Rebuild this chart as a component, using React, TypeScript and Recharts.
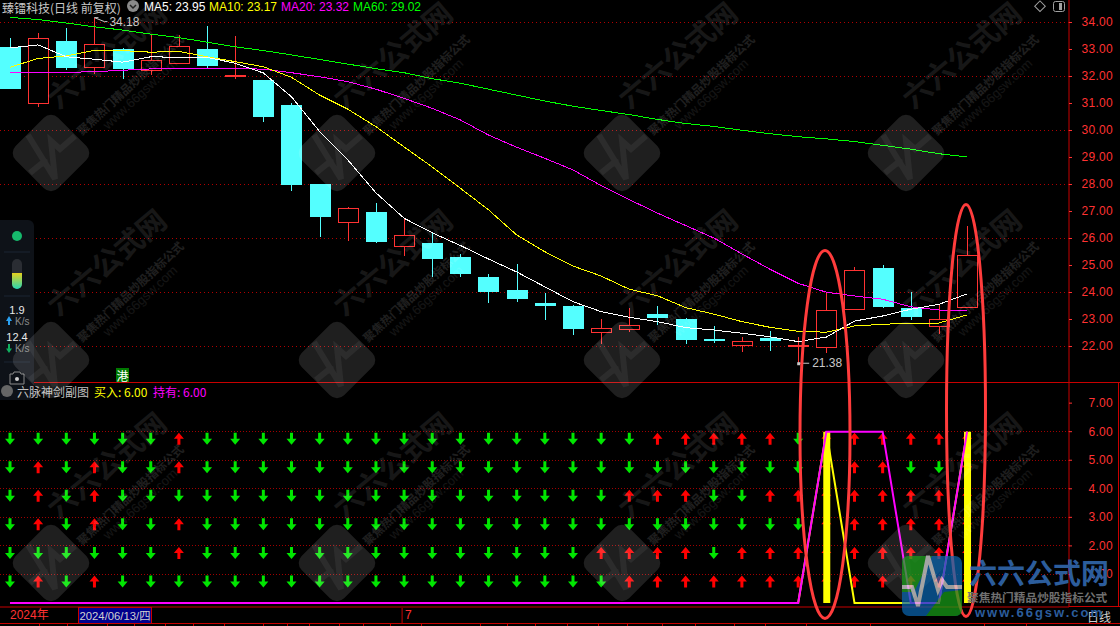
// Daily candles with MA lines and a six-row signal panel on a black terminal screen
import { Bar, CartesianGrid, ComposedChart, Line, ReferenceDot, Scatter, XAxis, YAxis } from 'recharts';

const opens = [33.09, 30.99, 33.31, 32.33, 33.02, 32.21, 32.47, 33.02, 32.03, 31.87, 30.94, 28.02, 26.59, 26.98, 25.7, 25.83, 25.31, 24.57, 24.09, 23.61, 23.5, 22.51, 22.62, 23.2, 23.02, 22.24, 22.03, 22.32, 22.0, 21.97, 23.38, 24.91, 23.43, 22.73, 23.44];
const closes = [31.54, 33.41, 32.31, 33.19, 32.28, 32.6, 33.12, 32.4, 32.03, 30.5, 27.98, 26.81, 27.12, 25.87, 26.12, 25.24, 24.69, 24.02, 23.76, 23.5, 22.65, 22.67, 22.79, 23.05, 22.24, 22.22, 22.2, 22.2, 22.0, 23.34, 24.82, 23.46, 23.09, 23.0, 25.38];
const highs = [33.43, 33.61, 33.8, 34.18, 33.06, 33.54, 33.54, 33.87, 33.5, 31.87, 31.02, 28.02, 27.18, 27.31, 26.75, 26.21, 25.43, 24.69, 25.06, 23.98, 23.54, 23.02, 23.43, 23.5, 23.06, 22.76, 22.35, 22.57, 22.35, 23.98, 24.94, 25.02, 24.02, 23.54, 26.46];
const lows = [31.54, 30.87, 32.24, 32.09, 31.91, 32.06, 32.47, 32.31, 31.92, 30.33, 27.76, 26.07, 25.92, 25.84, 25.35, 24.57, 24.57, 23.61, 23.65, 22.98, 22.43, 22.09, 22.54, 22.8, 22.09, 22.14, 21.8, 21.83, 21.38, 21.76, 23.38, 23.44, 22.98, 22.46, 23.44];

const ma5 = [33.06, 33.17, 32.73, 32.64, 32.53, 32.73, 32.71, 32.71, 32.49, 32.13, 31.25, 29.96, 28.91, 27.69, 26.75, 26.21, 25.74, 25.24, 24.76, 24.21, 23.66, 23.29, 23.08, 22.92, 22.7, 22.61, 22.49, 22.36, 22.18, 22.35, 22.94, 23.13, 23.38, 23.56, 23.95];
const ma10 = [32.34, 32.67, 32.76, 32.97, 32.96, 32.9, 32.93, 32.73, 32.55, 32.36, 31.97, 31.31, 30.79, 30.14, 29.39, 28.65, 27.86, 27.06, 26.13, 25.51, 24.98, 24.61, 24.12, 23.88, 23.44, 23.2, 22.92, 22.71, 22.56, 22.53, 22.76, 22.82, 22.87, 22.87, 23.17];
const ma20 = [32.13, 32.13, 32.15, 32.18, 32.23, 32.28, 32.3, 32.3, 32.3, 32.27, 32.14, 31.99, 31.81, 31.53, 31.19, 30.82, 30.39, 29.83, 29.38, 28.97, 28.54, 27.96, 27.44, 26.94, 26.48, 26.02, 25.43, 24.86, 24.34, 24.01, 23.87, 23.75, 23.47, 23.35, 23.32];
const ma60 = [34.19, 34.11, 33.98, 33.84, 33.72, 33.57, 33.44, 33.27, 33.1, 32.96, 32.8, 32.63, 32.46, 32.29, 32.14, 31.92, 31.75, 31.53, 31.31, 31.09, 30.9, 30.74, 30.59, 30.41, 30.26, 30.15, 30.01, 29.88, 29.77, 29.69, 29.59, 29.45, 29.31, 29.14, 29.02];

// lower panel: 1 = red up arrow, 0 = green down arrow
const row6 = [0, 0, 0, 0, 0, 0, 1, 0, 0, 0, 0, 0, 0, 0, 0, 0, 0, 0, 0, 0, 0, 0, 0, 1, 1, 1, 1, 1, 0, 1, 1, 1, 1, 1, 1];
const row5 = [0, 1, 0, 1, 0, 0, 1, 0, 0, 0, 0, 0, 0, 0, 0, 0, 0, 0, 0, 0, 0, 0, 0, 0, 0, 0, 0, 0, 0, 1, 1, 1, 0, 0, 1];
const row4 = [0, 1, 0, 1, 0, 0, 0, 0, 0, 0, 0, 0, 0, 0, 0, 0, 0, 0, 0, 0, 0, 0, 1, 1, 1, 0, 0, 1, 1, 1, 1, 1, 1, 1, 1];
const row3 = [0, 1, 0, 1, 0, 0, 1, 0, 0, 0, 0, 0, 0, 0, 0, 0, 0, 0, 0, 0, 0, 0, 0, 0, 0, 0, 0, 0, 0, 1, 1, 1, 1, 1, 1];
const row2 = [0, 0, 0, 0, 0, 0, 1, 0, 0, 0, 0, 0, 0, 0, 0, 0, 0, 0, 0, 0, 0, 1, 1, 1, 1, 0, 1, 1, 1, 1, 1, 1, 1, 1, 1];
const row1 = [0, 1, 0, 1, 0, 0, 0, 0, 0, 0, 0, 0, 0, 0, 0, 0, 0, 0, 0, 0, 0, 0, 1, 1, 1, 1, 1, 1, 1, 1, 1, 1, 1, 1, 1];
const rows = [row1, row2, row3, row4, row5, row6];

const buyBars = [29, 34];
const buy = [0, 0, 0, 0, 0, 0, 0, 0, 0, 0, 0, 0, 0, 0, 0, 0, 0, 0, 0, 0, 0, 0, 0, 0, 0, 0, 0, 0, 0, 6, 0, 0, 0, 0, 6];
const hold = [0, 0, 0, 0, 0, 0, 0, 0, 0, 0, 0, 0, 0, 0, 0, 0, 0, 0, 0, 0, 0, 0, 0, 0, 0, 0, 0, 0, 0, 6, 6, 6, 0, 0, 6];

const priceTicks = [22, 23, 24, 25, 26, 27, 28, 29, 30, 31, 32, 33, 34];
const priceGrid = [22, 24, 26, 28, 30, 32, 34];
const signalTicks = [1, 2, 3, 4, 5, 6, 7];
const signalGrid = [1, 2, 3, 4, 5, 6];
const monthTicks = [0, 14];
const monthLabels = ['2024年', '7'];
const dateTicks = [39, 67, 107, 134, 165, 193, 224, 263, 287, 309, 339, 363, 390, 421, 480, 507, 535, 567, 598, 627, 662, 695, 734, 765, 806, 870, 984, 1026];
const markTiles = [51, 337, 622, 906];
const markRows = [153, 360, 563];

const candleData = opens.map((o, i) => ({
  x: i, open: o, close: closes[i], range: [lows[i], highs[i]],
  ma5: ma5[i], ma10: ma10[i], ma20: ma20[i], ma60: ma60[i],
}));
const signalData = buy.map((b, i) => ({ x: i, buy: b, hold: hold[i], bar: buyBars.includes(i) ? b : null }));
const arrowData = rows.flatMap((row, r) => row.map((up, i) => ({ x: i, y: r + 1, up })));

const RED = '#ff3232';
const AXIS = '#c80000';
const CYAN = '#54ffff';
const SANS = '"Liberation Sans", "Noto Sans CJK SC", Arial, sans-serif';
const CJK = '"Noto Sans CJK SC", "Liberation Sans", sans-serif';
const xDomain: [number, number] = [-0.355, 37.62];
const signalDomain: [number, number] = [-0.14, 7.74];

function Candle(props: any) {
  const { x, y, width, height, payload } = props;
  const [low, high] = payload.range;
  const k = height / (high - low);
  const mid = x + width / 2;
  const top = y + (high - Math.max(payload.open, payload.close)) * k;
  const h = Math.abs(payload.open - payload.close) * k;
  const up = payload.close >= payload.open;
  const color = up ? RED : CYAN;
  return (
    <g shapeRendering="crispEdges">
      <line x1={mid} x2={mid} y1={y} y2={y + height} stroke={color} />
      {up && h >= 2 ? (
        <rect x={x + 0.5} y={top} width={width - 1} height={h} fill="#000" stroke={RED} />
      ) : (
        <rect x={x} y={top - (h < 2 ? 1 : 0)} width={width} height={Math.max(h, 2)} fill={color} />
      )}
    </g>
  );
}

function Arrow(props: any) {
  const { cx, cy, payload } = props;
  const pts = payload.up
    ? [[0, 1], [5, 7], [1.5, 7], [1.5, 13], [-1.5, 13], [-1.5, 7], [-5, 7]]
    : [[-1.5, 1], [1.5, 1], [1.5, 7], [5, 7], [0, 13], [-5, 7], [-1.5, 7]];
  return (
    <polygon
      points={pts.map(([a, b]) => `${cx + a},${cy + b}`).join(' ')}
      fill={payload.up ? '#ff0000' : '#00e600'}
    />
  );
}

function ValueTick(props: any) {
  const { x, y, payload } = props;
  return (
    <text x={x + 39} y={y} textAnchor="end" dominantBaseline="central" fill={RED} fontSize={12} fontFamily={SANS} letterSpacing={0.3}>
      {payload.value.toFixed(2)}
    </text>
  );
}

function MonthTick(props: any) {
  const { x, y, payload } = props;
  const first = payload.value === monthTicks[0];
  return (
    <g>
      {!first && <line x1={x - 2} x2={x - 2} y1={y - 5} y2={y + 11} stroke={AXIS} />}
      <text x={first ? x : x + 1} y={y + 2} dominantBaseline="central" fill={RED} fontSize={12} fontFamily={SANS}>
        {monthLabels[monthTicks.indexOf(payload.value)]}
      </text>
    </g>
  );
}

function LowMark(props: any) {
  const { cx, cy } = props;
  return (
    <g fill="#c8c8c8" fontSize={12} fontFamily={SANS}>
      <rect x={cx - 1} y={cy - 1} width={3} height={3} />
      <line x1={cx} x2={cx + 11} y1={cy} y2={cy} stroke="#c8c8c8" />
      <text x={cx + 14} y={cy} dominantBaseline="central">21.38</text>
    </g>
  );
}

function HighMark(props: any) {
  const { cx, cy } = props;
  return (
    <g fill="#c8c8c8" fontSize={12} fontFamily={SANS}>
      <path d={`M${cx},${cy} L${cx + 4},${cy} M${cx},${cy} L${cx + 10},${cy + 4} L${cx + 13},${cy + 4}`} stroke="#c8c8c8" fill="none" />
      <text x={cx + 15} y={cy + 4} dominantBaseline="central">34.18</text>
    </g>
  );
}

function Watermark({ cx, cy }: { cx: number; cy: number }) {
  return (
    <g fill="#fff">
      <rect x={cx - 30} y={cy - 30} width={60} height={60} rx={10} opacity={0.12} transform={`rotate(45 ${cx} ${cy})`} />
      <path
        d={`M${cx - 23},${cy - 18} L${cx + 4},${cy + 26} L${cx},${cy - 12} L${cx + 9},${cy - 4} L${cx + 24},${cy - 17} M${cx - 21},${cy + 20} L${cx - 10},${cy + 11} L${cx - 3},${cy + 9}`}
        stroke="#fff" strokeOpacity={0.06} strokeWidth={6} fill="none"
      />
      <text transform={`translate(${cx + 7} ${cy - 43}) rotate(-40)`} fontSize={29} fontWeight={700} fontFamily={CJK} opacity={0.09}>六六公式网</text>
      <text transform={`translate(${cx + 31} ${cy - 17}) rotate(-43)`} fontSize={11.7} fontWeight={700} fontFamily={CJK} opacity={0.12}>聚焦热门精品炒股指标公式</text>
      <text transform={`translate(${cx + 57} ${cy - 23}) rotate(-43)`} fontSize={13} fontFamily={SANS} opacity={0.08}>www.66gsw.com</text>
    </g>
  );
}

function Overlay() {
  return (
    <svg width={1120} height={626} style={{ position: 'absolute', left: 0, top: 0 }}>
      {/* date strip */}
      <line x1={0} x2={1120} y1={623} y2={623} stroke={AXIS} shapeRendering="crispEdges" />
      {dateTicks.map((t) => (
        <line key={t} x1={t} x2={t} y1={623} y2={626} stroke={AXIS} shapeRendering="crispEdges" />
      ))}
      <rect x={78} y={607} width={73} height={16} fill="#00008c" stroke={AXIS} shapeRendering="crispEdges" />
      <text x={79.5} y={615.5} dominantBaseline="central" fill="#d0d0d0" fontSize={11.3} fontFamily={SANS}>2024/06/13/四</text>
      <text x={1087} y={616} dominantBaseline="central" fill="#d0d0d0" fontSize={12} fontFamily={CJK}>日线</text>

      {/* panel frame */}
      <line x1={0} x2={1120} y1={382} y2={382} stroke={AXIS} shapeRendering="crispEdges" />
      <line x1={1069} x2={1120} y1={606.5} y2={606.5} stroke={AXIS} shapeRendering="crispEdges" />
      <line x1={1118.5} x2={1118.5} y1={382} y2={606} stroke={AXIS} shapeRendering="crispEdges" />

      {/* side widget */}
      <rect x={-6} y={220} width={40} height={180} rx={6} fill="#0e1218" />
      <circle cx={17} cy={236} r={5} fill="#16b96c" />
      <g stroke="#1a2433">
        <line x1={4} x2={30} y1={252} y2={252} />
        <line x1={4} x2={30} y1={296} y2={296} />
        <line x1={4} x2={30} y1={362} y2={362} />
      </g>
      <defs>
        <linearGradient id="meter" x1="0" x2="0" y1="0" y2="1">
          <stop offset="0" stopColor="#e6d11e" />
          <stop offset="1" stopColor="#25d6b4" />
        </linearGradient>
      </defs>
      <rect x={12} y={259} width={10} height={30} rx={5} fill="#2a2d33" />
      <path d="M12,273 H22 V284 A5,5 0 0 1 12,284 Z" fill="url(#meter)" />
      <g fontFamily={SANS} dominantBaseline="central">
        <text x={17} y={310} textAnchor="middle" fill="#e8e8e8" fontSize={11}>1.9</text>
        <text x={15} y={321} fill="#8a8a8a" fontSize={10}>K/s</text>
        <text x={17} y={337} textAnchor="middle" fill="#e8e8e8" fontSize={11}>12.4</text>
        <text x={15} y={348} fill="#8a8a8a" fontSize={10}>K/s</text>
      </g>
      <path d="M9,325 L6,320 L8,320 L8,316 L10,316 L10,320 L12,320 Z" transform="rotate(180 9 320.5)" fill="#2aa0f0" />
      <path d="M9,353 L6,348.5 L8,348.5 L8,344 L10,344 L10,348.5 L12,348.5 Z" fill="#10b060" />
      <path d="M10,374 H13 L14,372 H20 L21,374 H24 V384 H10 Z" fill="none" stroke="#8a8a8a" />
      <circle cx={17} cy={379} r={2} fill="#d0d0d0" />

      {/* headers */}
      <text x={2} y={7} dominantBaseline="central" fill="#c8c8c8" fontSize={12} fontFamily={CJK}>臻镭科技(日线 前复权)</text>
      <circle cx={133} cy={6} r={6} fill="#8a8a8a" />
      <path d="M130,5 L133,8 L136,5" stroke="#222" strokeWidth={1.5} fill="none" />
      <g fontSize={12} fontFamily={SANS} dominantBaseline="central">
        <text x={144} y={7} fill="#ffffff">MA5: 23.95</text>
        <text x={209} y={7} fill="#ffff00">MA10: 23.17</text>
        <text x={281} y={7} fill="#ff00ff">MA20: 23.32</text>
        <text x={353} y={7} fill="#00ff00">MA60: 29.02</text>
      </g>
      <rect x={1036} y={2.5} width={7.5} height={7.5} transform="rotate(45 1040 6.5)" fill="none" stroke="#a0a0a0" />
      <rect x={1053.5} y={1.5} width={11} height={10} rx={2} fill="none" stroke="#a0a0a0" />
      <rect x={1059} y={3} width={3} height={7} fill="#a0a0a0" />
      <circle cx={7} cy={391} r={6} fill="#666" />
      <g fontSize={12} fontFamily={CJK} dominantBaseline="central">
        <text x={17} y={391} fill="#c0c0c0">六脉神剑副图</text>
        <text x={94} y={391} fill="#ffff00">买入: 6.00</text>
        <text x={153} y={391} fill="#ff00ff">持有: 6.00</text>
      </g>
      <rect x={116} y={368} width={13} height={14} fill="#007800" />
      <text x={122.5} y={375} textAnchor="middle" dominantBaseline="central" fill="#fff" fontSize={12} fontFamily={CJK}>港</text>

      {markRows.map((cy) => markTiles.map((cx) => <Watermark key={`${cx}-${cy}`} cx={cx} cy={cy} />))}

      {/* hand-drawn circles */}
      <ellipse cx={825} cy={434.5} rx={25} ry={184} fill="none" stroke="#ff3c3c" strokeWidth={3} />
      <ellipse cx={966} cy={410.5} rx={19.5} ry={206} fill="none" stroke="#ff3c3c" strokeWidth={3} />

      {/* site logo */}
      <g opacity={0.72}>
        <rect x={902} y={556} width={60} height={60} rx={7} fill="#0a66b0" />
        <path d="M902,563 Q902,556 909,556 H932 L914,592 H902 Z" fill="#18a018" />
        <path d="M962,590 V609 Q962,616 955,616 H926 L944,592 Z" fill="#18a018" />
        <path d="M902,587 H912 L918,606 L928,556 L938,590 L942,580 L947,587 H962" fill="none" stroke="#d8d8d8" strokeWidth={4} />
      </g>
      <text x={969} y={572} dominantBaseline="central" fill="#2c5d9c" fontSize={28} fontWeight={700} fontFamily={CJK}>六六公式网</text>
      <text x={967} y={596} dominantBaseline="central" fill="#707070" fontSize={11.7} fontWeight={700} fontFamily={CJK}>聚焦热门精品炒股指标公式</text>
      <text x={975} y={612} dominantBaseline="central" fill="#2c5d9c" fontSize={13} fontWeight={700} letterSpacing={2} fontFamily={SANS}>www.66gsw.com</text>
    </svg>
  );
}

export default function App() {
  return (
    <div style={{ position: 'absolute', left: 0, top: 0, width: 1120, height: 626, background: '#000', overflow: 'hidden' }}>
      <div style={{ position: 'absolute', left: 0, top: 0 }}>
        <ComposedChart width={1120} height={382} data={candleData} margin={{ top: 0, right: 0, bottom: 0, left: 0 }}>
          <CartesianGrid horizontal vertical={false} horizontalValues={priceGrid} stroke="#b00000" strokeDasharray="1 3" shapeRendering="crispEdges" />
          <XAxis dataKey="x" type="number" domain={xDomain} allowDataOverflow hide />
          <YAxis
            orientation="right" width={51} domain={[20.685, 34.833]} ticks={priceTicks} interval={0} allowDataOverflow
            axisLine={{ stroke: AXIS }} tickLine={{ stroke: RED }} tickSize={3} tick={<ValueTick />}
          />
          <Bar dataKey="range" barSize={21} shape={<Candle />} isAnimationActive={false} />
          <Line dataKey="ma60" stroke="#00ff00" strokeWidth={1} dot={false} shapeRendering="crispEdges" isAnimationActive={false} />
          <Line dataKey="ma20" stroke="#ff00ff" strokeWidth={1} dot={false} shapeRendering="crispEdges" isAnimationActive={false} />
          <Line dataKey="ma10" stroke="#ffff00" strokeWidth={1} dot={false} shapeRendering="crispEdges" isAnimationActive={false} />
          <Line dataKey="ma5" stroke="#ffffff" strokeWidth={1} dot={false} shapeRendering="crispEdges" isAnimationActive={false} />
          <ReferenceDot x={3} y={highs[3]} shape={<HighMark />} />
          <ReferenceDot x={28} y={lows[28]} shape={<LowMark />} />
        </ComposedChart>
      </div>
      {/* arrows sit in their own layer so the bars and lines cover them */}
      <div style={{ position: 'absolute', left: 0, top: 382 }}>
        <ComposedChart width={1120} height={244} data={signalData} margin={{ top: 0, right: 0, bottom: 0, left: 0 }}>
          <CartesianGrid horizontal vertical={false} horizontalValues={signalGrid} stroke="#a00000" strokeDasharray="1 2" shapeRendering="crispEdges" />
          <XAxis
            dataKey="x" type="number" domain={xDomain} allowDataOverflow height={19} ticks={monthTicks} interval={0}
            axisLine={{ stroke: AXIS }} tickLine={false} tickMargin={0} tick={<MonthTick />}
          />
          <YAxis
            orientation="right" width={51} domain={signalDomain} ticks={signalTicks} interval={0} allowDataOverflow
            axisLine={{ stroke: AXIS }} tickLine={{ stroke: RED }} tickSize={3} tick={<ValueTick />}
          />
          <Scatter data={arrowData} dataKey="y" shape={<Arrow />} isAnimationActive={false} />
        </ComposedChart>
      </div>
      <div style={{ position: 'absolute', left: 0, top: 382 }}>
        <ComposedChart width={1120} height={244} data={signalData} margin={{ top: 0, right: 51, bottom: 19, left: 0 }}>
          <XAxis dataKey="x" type="number" domain={xDomain} allowDataOverflow hide />
          <YAxis domain={signalDomain} allowDataOverflow hide />
          <Bar dataKey="bar" barSize={7} fill="#ffff00" isAnimationActive={false} />
          <Line dataKey="buy" stroke="#ffff00" strokeWidth={2} dot={false} isAnimationActive={false} />
          <Line dataKey="hold" stroke="#ff00ff" strokeWidth={2} dot={false} isAnimationActive={false} />
        </ComposedChart>
      </div>
      <Overlay />
    </div>
  );
}
